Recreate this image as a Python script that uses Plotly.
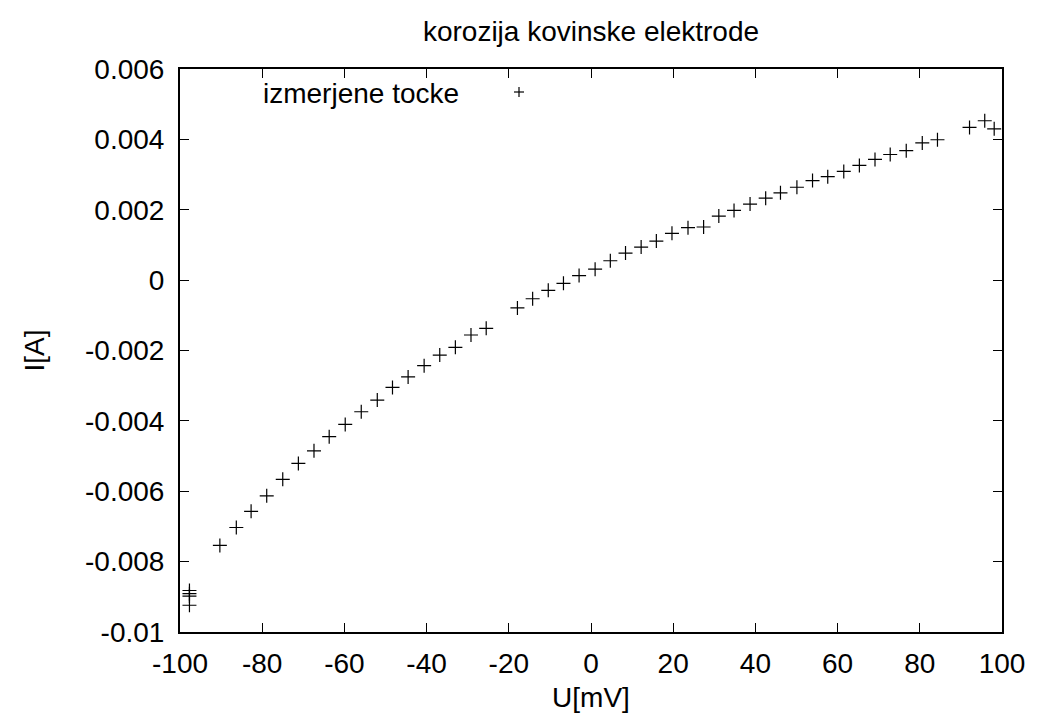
import plotly.graph_objects as go

# Measured points (U in mV, I in A)
u_mv = [-97.7, -97.7, -97.7, -97.7, -90.3, -86.3, -82.7, -78.9, -75.0, -71.2,
        -67.4, -63.7, -59.8, -55.9, -52.0, -48.3, -44.5, -40.6, -36.8, -33.0,
        -29.2, -25.5, -17.9, -14.2, -10.4, -6.7, -2.9, 1.0, 4.7, 8.4,
        12.2, 15.9, 19.7, 23.6, 27.4, 31.1, 34.8, 38.7, 42.5, 46.1,
        50.1, 53.9, 57.6, 61.5, 65.3, 69.1, 72.8, 76.7, 80.6, 84.3,
        92.1, 95.8, 98.1]
i_a = [-0.00882, -0.00891, -0.00898, -0.00924, -0.00754, -0.00703, -0.00657, -0.00613, -0.00566, -0.00521,
       -0.00485, -0.00445, -0.00410, -0.00374, -0.00341, -0.00305, -0.00275, -0.00243, -0.00213, -0.00191,
       -0.00156, -0.00137, -0.00079, -0.00053, -0.00029, -0.00009, 0.00013, 0.00031, 0.00055, 0.00077,
       0.00094, 0.00111, 0.00133, 0.00149, 0.00151, 0.00182, 0.00198, 0.00216, 0.00233, 0.00248,
       0.00264, 0.00283, 0.00294, 0.00309, 0.00326, 0.00343, 0.00357, 0.00368, 0.00390, 0.00399,
       0.00434, 0.00453, 0.00430]

x_ticks = [-100, -80, -60, -40, -20, 0, 20, 40, 60, 80, 100]
y_ticks = [0.006, 0.004, 0.002, 0, -0.002, -0.004, -0.006, -0.008, -0.01]
y_tick_labels = ["0.006", "0.004", "0.002", "0", "-0.002", "-0.004", "-0.006", "-0.008", "-0.01"]

title_text = "korozija kovinske elektrode"
series_name = "izmerjene tocke"
x_title = "U[mV]"
y_title = "I[A]"

FONT = "Liberation Sans, Arial, sans-serif"
FS = 28

fig = go.Figure()
fig.add_trace(go.Scatter(
    x=u_mv, y=i_a, mode="markers", name=series_name,
    marker=dict(symbol="cross-thin", size=10, line=dict(width=1.2, color="black"), color="black"),
    showlegend=False,
))

W, H = 1037, 724
L, R, T, B = 180, 35, 69, 92

axis_common = dict(
    showgrid=False, zeroline=False, showline=True, linecolor="black", linewidth=2,
    mirror="ticks", ticks="inside", ticklen=9, tickwidth=1, tickcolor="black",
    tickfont=dict(family=FONT, size=FS, color="black"),
)

fig.update_layout(
    width=W, height=H,
    margin=dict(l=L, r=R, t=T, b=B),
    paper_bgcolor="white", plot_bgcolor="white",
    font=dict(family=FONT, size=FS, color="black"),
    title=dict(text=title_text, x=(L + (W - L - R) / 2) / W, xanchor="center",
               y=1 - 31 / H, yanchor="middle", yref="container",
               font=dict(family=FONT, size=FS, color="black")),
    xaxis=dict(range=[-100, 100], tickvals=x_ticks, ticktext=[str(v) for v in x_ticks],
               title=dict(text=x_title, standoff=10, font=dict(family=FONT, size=FS)),
               ticklabelstandoff=5, **axis_common),
    yaxis=dict(range=[-0.01, 0.006], tickvals=y_ticks, ticktext=y_tick_labels,
               title=dict(text=y_title, standoff=32, font=dict(family=FONT, size=FS)),
               ticklabelstandoff=8, **axis_common),
    showlegend=False,
)

# Legend-like key (text right-aligned, sample marker to the right)
fig.add_annotation(text=series_name, xref="paper", yref="paper",
                   x=(461 - L) / (W - L - R), y=1 - (93 - T) / (H - T - B),
                   xanchor="right", yanchor="middle", showarrow=False,
                   font=dict(family=FONT, size=FS, color="black"))
kx = (519 - L) / (W - L - R)
ky = 1 - (92 - T) / (H - T - B)
dx = 5 / (W - L - R)
dy = 5 / (H - T - B)
fig.add_shape(type="line", xref="paper", yref="paper", x0=kx - dx, x1=kx + dx, y0=ky, y1=ky,
              line=dict(color="black", width=1.2))
fig.add_shape(type="line", xref="paper", yref="paper", x0=kx, x1=kx, y0=ky - dy, y1=ky + dy,
              line=dict(color="black", width=1.2))

fig.write_html("out.html", config={"displayModeBar": False},
               post_script="document.body.style.margin='0';document.body.style.overflow='hidden';")
